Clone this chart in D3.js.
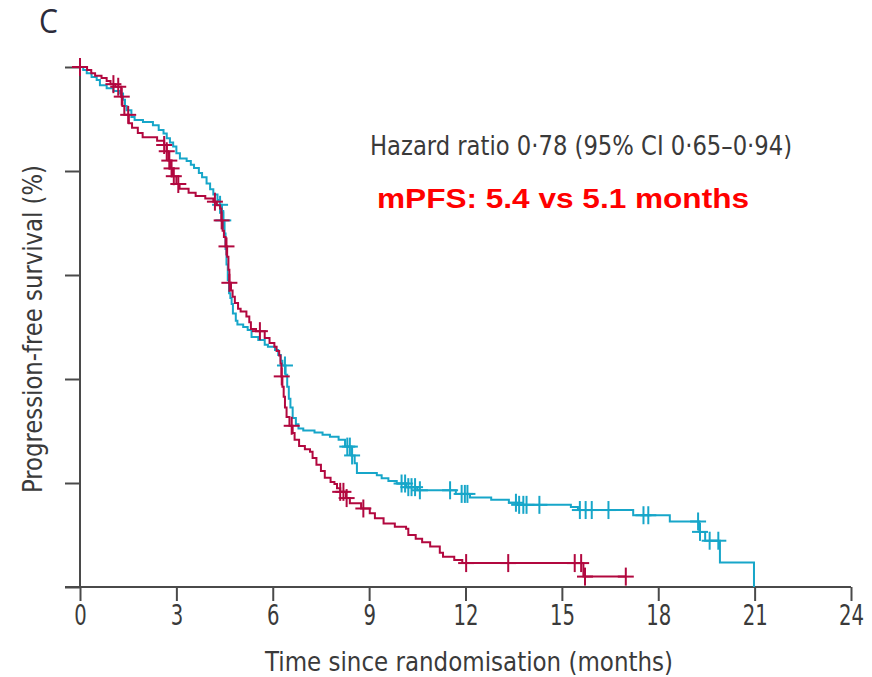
<!DOCTYPE html>
<html><head><meta charset="utf-8">
<script src="https://cdn.jsdelivr.net/npm/d3@7/dist/d3.min.js"></script>
<style>body{margin:0;background:#fff}svg{display:block}</style>
</head><body>
<svg id="chart" width="872" height="677"></svg>
<script>
// ---- data ----
const xTicks = [0, 3, 6, 9, 12, 15, 18, 21, 24];
const yTicks = [0, 20, 40, 60, 80, 100];
// [time (months), survival % after event]
const blueSteps = [[0.1,99.4],[0.21,98.8],[0.36,98.1],[0.52,97.5],[0.62,96.5],[0.83,95.9],[1.04,95.4],[1.25,94.9],[1.34,93.7],[1.4,92.5],[1.45,91.7],[1.6,90.4],[1.7,89.8],[1.96,89.4],[2.27,88.8],[2.45,87.9],[2.6,87.2],[2.7,86.3],[2.8,85.5],[2.9,84.7],[3.0,83.4],[3.11,82.4],[3.32,81.9],[3.45,81.2],[3.55,80.6],[3.7,79.6],[3.8,78.8],[3.94,77.6],[4.05,76.5],[4.15,75.5],[4.28,74.4],[4.36,73.5],[4.42,72.3],[4.46,70.5],[4.5,68],[4.53,65],[4.56,62],[4.6,59],[4.64,56.5],[4.68,55.6],[4.72,54.4],[4.76,52.6],[4.85,51.2],[4.9,50.5],[5.08,50.0],[5.22,49.4],[5.34,48.1],[5.55,47.5],[5.75,46.6],[5.85,46.2],[6.07,45.6],[6.17,44.6],[6.25,43.5],[6.3,42.6],[6.4,40.8],[6.45,38.5],[6.5,36.2],[6.55,34.5],[6.62,32.5],[6.72,31.3],[6.8,30.5],[6.95,30.1],[7.3,29.7],[7.55,29.3],[7.78,28.9],[8.05,28.3],[8.25,27.0],[8.45,25.3],[8.55,23.8],[8.62,21.9],[9.24,21.5],[9.39,20.9],[9.6,20.4],[9.86,19.9],[10.15,19.2],[10.5,18.6],[11.7,17.9],[12.14,17.2],[12.8,16.8],[13.35,16.2],[13.6,15.8],[15.28,15.4],[15.5,14.8],[17.22,13.8],[18.36,12.6],[19.28,10.6],[19.46,8.9],[19.92,4.7],[20.98,0]];
const blueCensor = [4.36,4.46,6.38,8.32,8.4,8.47,10.01,10.12,10.22,10.32,10.43,10.58,11.52,11.88,11.98,12.06,13.57,13.67,13.8,13.9,14.3,15.56,15.74,15.93,16.45,17.54,17.69,19.24,19.3,19.6,19.87];
const blueEnd = 20.98;
const redSteps = [[0.22,99.4],[0.35,98.8],[0.47,98.3],[0.67,97.9],[0.83,97.3],[0.95,96.7],[1.1,96.2],[1.28,94.3],[1.32,92.5],[1.38,90.8],[1.52,89.2],[1.62,88.3],[1.8,87.3],[1.95,86.5],[2.4,85.8],[2.62,85],[2.7,83.8],[2.75,82],[2.8,80.5],[2.88,79],[3.0,77.5],[3.1,76.6],[3.38,75.8],[3.6,75.2],[3.9,74.7],[4.15,74.1],[4.26,73.4],[4.36,72.8],[4.4,70.5],[4.44,68.5],[4.48,67.3],[4.53,65.5],[4.58,63.5],[4.62,61],[4.65,58.5],[4.7,57],[4.75,55.8],[4.82,54.6],[4.92,53.5],[5.0,53],[5.18,52],[5.27,50.9],[5.32,49.6],[5.48,49.2],[5.75,47.9],[5.9,46.9],[6.05,46.2],[6.12,45.4],[6.2,44.5],[6.24,43],[6.27,40.5],[6.3,38.5],[6.34,36.6],[6.38,34.5],[6.43,32.7],[6.52,31],[6.62,29.6],[6.68,28.3],[6.82,27.1],[7.0,26.5],[7.16,26],[7.24,24.8],[7.36,23.5],[7.5,22.3],[7.62,21],[7.8,20.2],[7.92,19.8],[8.0,19],[8.1,18.3],[8.28,17.1],[8.4,16.1],[8.75,15.1],[9.02,14.2],[9.18,13.2],[9.45,12.2],[9.8,11.6],[10.15,11.2],[10.22,10],[10.45,9.3],[10.65,8.6],[10.9,7.8],[11.2,6.6],[11.3,5.8],[11.65,5.2],[11.9,4.6],[15.67,2.0]];
const redCensor = [0.0,1.04,1.19,1.3,1.5,2.62,2.7,2.78,2.85,2.92,3.06,4.2,4.41,4.56,4.65,5.6,6.28,6.59,8.1,8.2,8.3,8.82,12.02,13.33,15.4,15.6,15.72,16.99];
const redEnd = 16.99;

// ---- layout ----
const svg = d3.select('#chart');
const x = d3.scaleLinear().domain([0, 24]).range([80, 851]);
const y = d3.scaleLinear().domain([0, 100]).range([587, 67]);
const BLUE = '#17a6c9', RED = '#b2083f', AXIS = '#4a4a4a', TXT = '#3a3a3a';
const FONT = '"DejaVu Sans Condensed","DejaVu Sans",sans-serif';

// axes
const gx = svg.append('g').attr('transform', 'translate(0,587)')
  .call(d3.axisBottom(x).tickValues(xTicks).tickSize(14).tickPadding(4).tickFormat(d3.format('d')));
gx.select('.domain').attr('d', 'M65,0H851').attr('stroke', AXIS).attr('stroke-width', 2);
gx.selectAll('.tick line').attr('stroke', AXIS).attr('stroke-width', 2);
gx.selectAll('.tick text').attr('fill', TXT).style('font-family', FONT).style('font-size', '28px')
  .attr('textLength', d => String(d).length * 12.5).attr('lengthAdjust', 'spacingAndGlyphs');

const gy = svg.append('g').attr('transform', 'translate(80,0)')
  .call(d3.axisLeft(y).tickValues(yTicks).tickSize(15).tickFormat(''));
gy.select('.domain').attr('d', 'M0,67V587').attr('stroke', AXIS).attr('stroke-width', 2);
gy.selectAll('.tick line').attr('stroke', AXIS).attr('stroke-width', 2);

// curves
function survAt(steps, t) {
  let s = 100;
  for (const [tt, v] of steps) { if (tt <= t) s = v; else break; }
  return s;
}
const line = d3.line().x(d => x(d[0])).y(d => y(d[1])).curve(d3.curveStepAfter);
function drawCurve(steps, censor, end, color) {
  const pts = [[0, 100], ...steps];
  const last = steps[steps.length - 1];
  if (end > last[0]) pts.push([end, last[1]]);
  svg.append('path').datum(pts).attr('d', line)
    .attr('fill', 'none').attr('stroke', color).attr('stroke-width', 2);
  const g = svg.append('g').attr('stroke', color).attr('stroke-width', 2);
  censor.forEach(t => {
    const cx = x(t), cy = y(survAt(steps, t));
    g.append('line').attr('x1', cx).attr('x2', cx).attr('y1', cy - 9).attr('y2', cy + 9);
    g.append('line').attr('x1', cx - 8).attr('x2', cx + 8).attr('y1', cy).attr('y2', cy);
  });
}
drawCurve(blueSteps, blueCensor, blueEnd, BLUE);
drawCurve(redSteps, redCensor, redEnd, RED);

// texts
svg.append('text').attr('x', 39).attr('y', 33).text('C')
  .attr('textLength', 19).attr('lengthAdjust', 'spacingAndGlyphs')
  .attr('fill', '#2b2b3b').style('font-family', '"Open Sans",sans-serif').style('font-size', '32px');
svg.append('text').attr('x', 370).attr('y', 155).text('Hazard ratio 0·78 (95% CI 0·65–0·94)')
  .attr('textLength', 422).attr('lengthAdjust', 'spacingAndGlyphs')
  .attr('fill', TXT).style('font-family', FONT).style('font-size', '27px');
svg.append('text').attr('x', 377).attr('y', 208).text('mPFS: 5.4 vs 5.1 months')
  .attr('textLength', 372).attr('lengthAdjust', 'spacingAndGlyphs')
  .attr('fill', '#ff0000').style('font-family', '"Liberation Sans",Arial,sans-serif')
  .style('font-weight', 'bold').style('font-size', '28px');
svg.append('text').attr('x', 469).attr('y', 671).attr('text-anchor', 'middle')
  .text('Time since randomisation (months)')
  .attr('textLength', 408).attr('lengthAdjust', 'spacingAndGlyphs')
  .attr('fill', TXT).style('font-family', FONT).style('font-size', '27px');
svg.append('text').attr('transform', 'translate(42,329) rotate(-90)').attr('text-anchor', 'middle')
  .text('Progression-free survival (%)')
  .attr('textLength', 328).attr('lengthAdjust', 'spacingAndGlyphs')
  .attr('fill', TXT).style('font-family', FONT).style('font-size', '27px');
</script>
</body></html>
